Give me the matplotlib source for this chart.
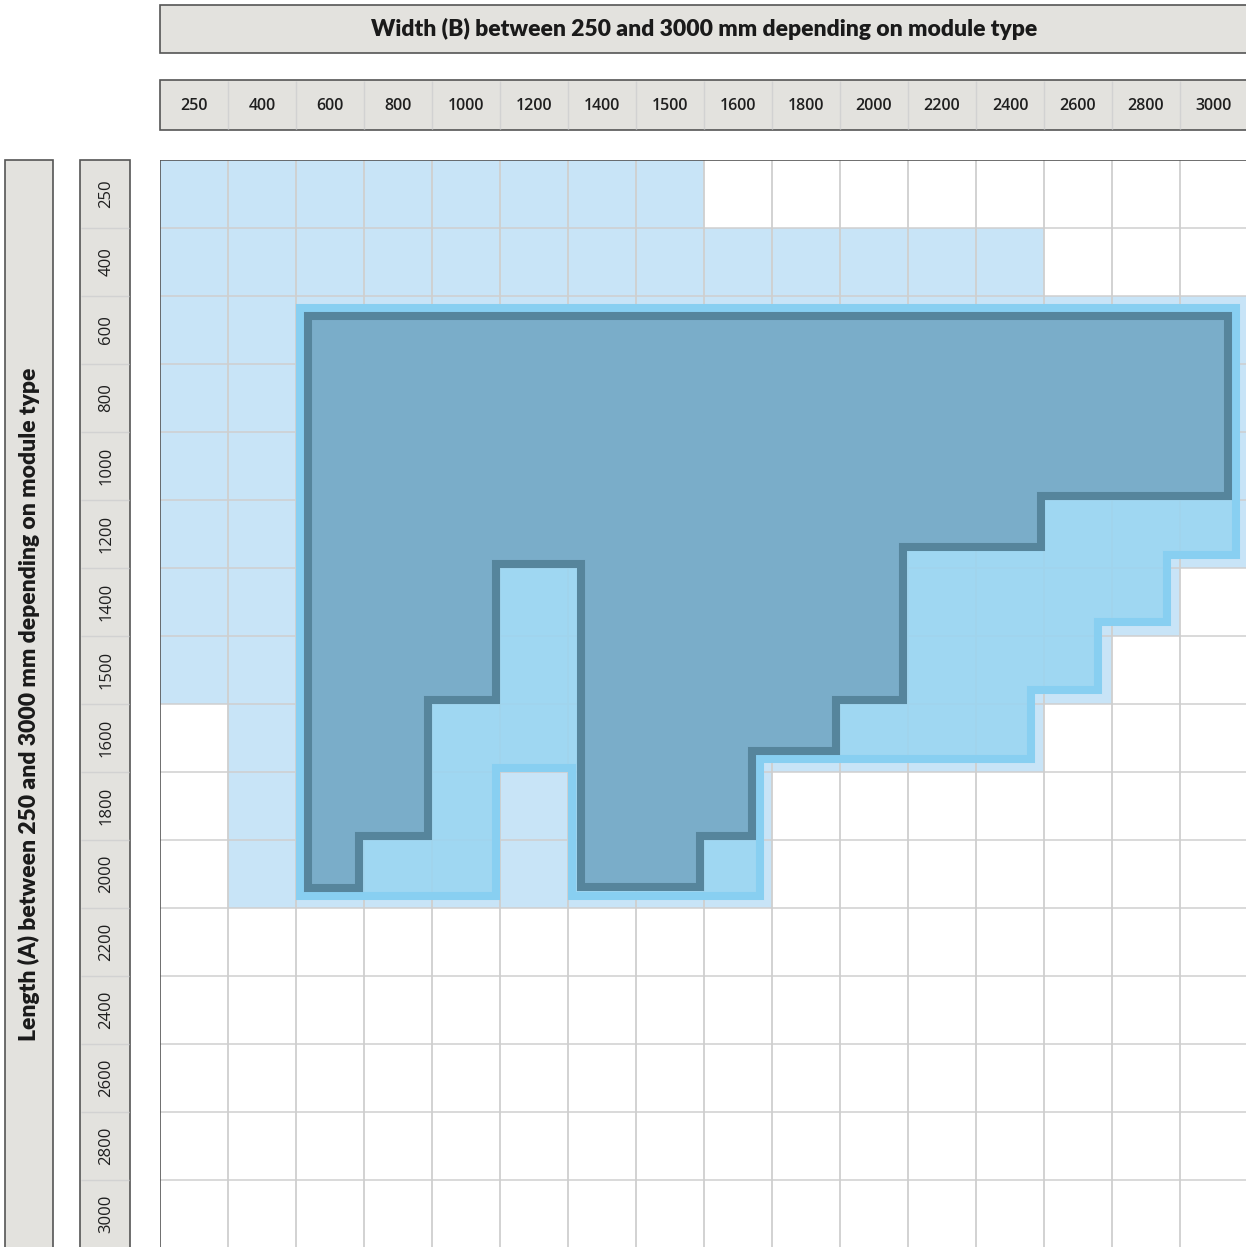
import matplotlib.pyplot as plt
from matplotlib.patches import Rectangle, Polygon

# sizes in mm (columns = width B, rows = length A)
widths = [250, 400, 600, 800, 1000, 1200, 1400, 1500, 1600, 1800, 2000, 2200, 2400, 2600, 2800, 3000]
lengths = [250, 400, 600, 800, 1000, 1200, 1400, 1500, 1600, 1800, 2000, 2200, 2400, 2600, 2800, 3000]

# light blue: available widths per length (from, to), None = nothing
avail = {
    250: (250, 1500), 400: (250, 2400), 600: (250, 3000), 800: (250, 3000),
    1000: (250, 3000), 1200: (250, 3000), 1400: (250, 2800), 1500: (250, 2600),
    1600: (400, 2400), 1800: (400, 1600), 2000: (400, 1600),
}

# outlines, in grid units (column index, row index)
mid_outline = [(2.06, 2.18), (15.82, 2.18), (15.82, 5.81), (14.81, 5.81), (14.81, 6.79),
               (13.79, 6.79), (13.79, 7.79), (12.81, 7.79), (12.81, 8.81), (8.82, 8.81),
               (8.82, 10.82), (6.06, 10.82), (6.06, 8.94), (4.94, 8.94), (4.94, 10.82),
               (2.06, 10.82)]
dark_outline = [(2.18, 2.29), (15.71, 2.29), (15.71, 4.94), (12.96, 4.94), (12.96, 5.69),
                (10.93, 5.69), (10.93, 7.94), (9.94, 7.94), (9.94, 8.69), (8.71, 8.69),
                (8.71, 9.94), (7.94, 9.94), (7.94, 10.69), (6.19, 10.69), (6.19, 5.94),
                (4.94, 5.94), (4.94, 7.94), (3.94, 7.94), (3.94, 9.94), (2.93, 9.94),
                (2.93, 10.71), (2.18, 10.71)]

title_top = "Width (B) between 250 and 3000 mm depending on module type"
title_left = "Length (A) between 250 and 3000 mm depending on module type"

hdr_fill = '#e3e2de'
hdr_edge = '#555555'
grid_col = '#cfcfcf'
title_font = ['Lato', 'DejaVu Sans']
num_font = ['Open Sans', 'DejaVu Sans']

fig = plt.figure(figsize=(12.46, 12.47), dpi=100)
ax = fig.add_axes([160 / 1246, 1 - 1248 / 1247, 1088 / 1246, 1088 / 1247])
n = len(widths)
ax.set_xlim(0, n)
ax.set_ylim(n, 0)
ax.axis('off')

# light blue cells
for i, L in enumerate(lengths):
    if L not in avail:
        continue
    a, b = avail[L]
    c0, c1 = widths.index(a), widths.index(b)
    ax.barh(i + 0.5, c1 - c0 + 1, left=c0, height=1, color='#c8e4f7', zorder=0)

# grid
ax.vlines(range(1, n + 1), 0, n, color=grid_col, lw=1.3, zorder=1)
ax.hlines(range(1, n + 1), 0, n, color=grid_col, lw=1.1, zorder=1)
ax.plot([0, 0], [n, 0], color=hdr_edge, lw=1.2, zorder=6, solid_capstyle='butt')
ax.plot([0, n], [0, 0], color=hdr_edge, lw=1.2, zorder=6, solid_capstyle='butt')

# regions
ax.add_patch(Polygon(mid_outline, closed=True, facecolor=(0.596, 0.835, 0.949, 0.85),
                     edgecolor='#88cff1', lw=5.8, joinstyle='miter', zorder=2))
ax.add_patch(Polygon(dark_outline, closed=True, facecolor=(0.459, 0.659, 0.769, 0.88),
                     edgecolor='#56859c', lw=5.8, joinstyle='miter', zorder=3))

# header boxes
ax.add_patch(Rectangle((0, -2.28), n + 0.5, 0.706, facecolor=hdr_fill, edgecolor=hdr_edge,
                       lw=1.2, clip_on=False))
ax.text(n / 2, -1.927, title_top, ha='center', va='center', fontsize=16.5,
        fontweight='heavy', family=title_font, color='#1a1a1a')
ax.add_patch(Rectangle((0, -1.176), n + 0.5, 0.735, facecolor=hdr_fill, edgecolor=hdr_edge,
                       lw=1.2, clip_on=False))
ax.vlines(range(1, n), -1.165, -0.452, color='#d2d2d2', lw=1.0, clip_on=False)
for j, w in enumerate(widths):
    ax.text(j + 0.5, -0.80, str(w), ha='center', va='center', fontsize=11.5,
            fontweight='semibold', family=num_font, color='#1f1f1f')

ax.add_patch(Rectangle((-2.28, 0), 0.706, n + 0.5, facecolor=hdr_fill, edgecolor=hdr_edge,
                       lw=1.2, clip_on=False))
ax.text(-1.927, n / 2, title_left, ha='center', va='center', rotation=90, fontsize=16.5,
        fontweight='heavy', family=title_font, color='#1a1a1a')
ax.add_patch(Rectangle((-1.176, 0), 0.735, n + 0.5, facecolor=hdr_fill, edgecolor=hdr_edge,
                       lw=1.2, clip_on=False))
ax.hlines(range(1, n), -1.165, -0.452, color='#d2d2d2', lw=1.0, clip_on=False)
for i, L in enumerate(lengths):
    ax.text(-0.79, i + 0.5, str(L), ha='center', va='center', rotation=90, fontsize=12,
            family=num_font, color='#1f1f1f')

fig.savefig('out.png', dpi=100)
